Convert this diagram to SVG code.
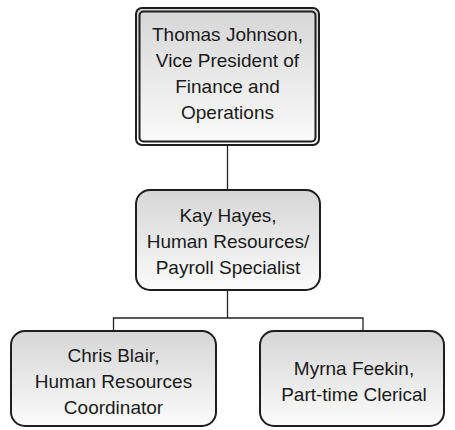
<svg xmlns="http://www.w3.org/2000/svg" width="455" height="430" viewBox="0 0 455 430">
<defs>
<linearGradient id="g" x1="0" y1="0" x2="0" y2="1">
<stop offset="0" stop-color="#d6d6d6"/>
<stop offset="1" stop-color="#fbfbfb"/>
</linearGradient>
<style>
.box{fill:url(#g);stroke:#1e1e1e;stroke-width:2}
.inner{fill:none;stroke:#1e1e1e;stroke-width:2}
.t{font-family:"Liberation Sans",Arial,sans-serif;font-size:19px;fill:#1a1a1a;text-anchor:middle}
.c{fill:none;stroke:#222;stroke-width:1.3}
</style>
</defs>
<rect width="455" height="430" fill="#fff"/>
<g id="connectors">
<line class="c" x1="227.5" y1="145" x2="227.5" y2="190"/>
<polyline class="c" points="227.5,290 227.5,318"/>
<polyline class="c" points="113.5,331 113.5,318 363,318 363,331"/>
</g>
<g id="thomas">
<rect class="box" x="136" y="8" width="183" height="137" rx="6"/>
<rect class="inner" x="139.5" y="11.5" width="176" height="130" rx="4"/>
<text class="t" x="227.5" y="41">Thomas Johnson,</text>
<text class="t" x="227.5" y="67">Vice President of</text>
<text class="t" x="227.5" y="93">Finance and</text>
<text class="t" x="227.5" y="119">Operations</text>
</g>
<g id="kay">
<rect class="box" x="136" y="190" width="184" height="100" rx="14"/>
<text class="t" x="228" y="222">Kay Hayes,</text>
<text class="t" x="228" y="248">Human Resources/</text>
<text class="t" x="228" y="274">Payroll Specialist</text>
</g>
<g id="chris">
<rect class="box" x="11" y="331" width="205" height="95" rx="14"/>
<text class="t" x="113.5" y="362">Chris Blair,</text>
<text class="t" x="113.5" y="388">Human Resources</text>
<text class="t" x="113.5" y="414">Coordinator</text>
</g>
<g id="myrna">
<rect class="box" x="260" y="331" width="184" height="95" rx="14"/>
<text class="t" x="354" y="375">Myrna Feekin,</text>
<text class="t" x="354" y="401">Part-time Clerical</text>
</g>
</svg>
